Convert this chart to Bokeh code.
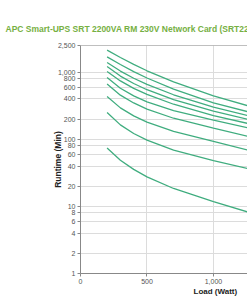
from bokeh.plotting import figure
from bokeh.models import FixedTicker, NumeralTickFormatter, Span, Title, Range1d
from bokeh.embed import file_html
from bokeh.resources import INLINE

title_text = "APC Smart-UPS SRT 2200VA RM 230V Network Card (SRT2200RMXLI-NC)"
x_label = "Load (Watt)"
y_label = "Runtime (Min)"

loads = [200, 300, 400, 500, 700, 1000, 1300]
runtime_9 = [2134, 1655, 1305, 1050, 716, 445, 299]
runtime_8 = [1695, 1301, 1021, 820, 561, 350, 245]
runtime_7 = [1395, 1040, 813, 658, 461, 302, 215]
runtime_6 = [1216, 876, 678, 548, 389, 263, 190]
runtime_5 = [1024, 741, 575, 467, 333, 226, 165]
runtime_4 = [834, 577, 444, 362, 267, 193, 142]
runtime_3 = [665, 455, 348, 282, 206, 147, 106]
runtime_2 = [434, 294, 223, 180, 131, 93, 66]
runtime_1 = [251, 164, 122, 97, 69, 48, 35]
runtime_0 = [74, 48.8, 35.6, 27.6, 18.5, 11.8, 7.8]
series = [runtime_9, runtime_8, runtime_7, runtime_6, runtime_5,
          runtime_4, runtime_3, runtime_2, runtime_1, runtime_0]

y_ticks = [1, 2, 4, 6, 8, 10, 20, 40, 60, 80, 100, 200, 400, 600, 800, 1000, 2500]
x_ticks = [0, 500, 1000, 1500]

FONT = "Liberation Sans"
LINE = "#40ad7f"

p = figure(width=247, height=296, output_backend="svg", toolbar_location=None,
           y_axis_type="log", x_range=Range1d(0, 1256), y_range=Range1d(1, 2500),
           min_border_left=80, min_border_right=0, min_border_top=45,
           min_border_bottom=23)
p.outline_line_color = None
p.background_fill_color = "white"
p.border_fill_color = "white"

p.title.text = title_text
p.title.text_font = FONT
p.title.text_font_size = "8.5px"
p.title.text_font_style = "bold"
p.title.text_color = "#76b043"
p.title.align = "left"
p.title.offset = -75
p.title.standoff = 24

for s in series:
    p.line(loads, s, line_color=LINE, line_width=1.3)

p.yaxis.ticker = FixedTicker(ticks=y_ticks)
p.xaxis.ticker = FixedTicker(ticks=x_ticks)
p.yaxis.formatter = NumeralTickFormatter(format="0,0")
p.xaxis.formatter = NumeralTickFormatter(format="0,0")

for ax in (p.xaxis, p.yaxis):
    ax.major_label_text_font = FONT
    ax.major_label_text_font_size = "7px"
    ax.major_label_text_color = "#555555"
    ax.major_tick_out = 3
    ax.major_tick_in = 0
    ax.minor_tick_out = 0
    ax.minor_tick_in = 0
    ax.major_tick_line_color = "#888888"
    ax.axis_line_color = "#888888"
    ax.major_label_standoff = 2

p.yaxis.axis_label = y_label
p.yaxis.axis_label_text_font = FONT
p.yaxis.axis_label_text_font_size = "8.5px"
p.yaxis.axis_label_text_font_style = "bold"
p.yaxis.axis_label_text_color = "#222222"
p.yaxis.axis_label_standoff = -8

p.xgrid.ticker = FixedTicker(ticks=x_ticks)
p.ygrid.ticker = FixedTicker(ticks=y_ticks)
p.xgrid.grid_line_color = "#dcdcdc"
p.ygrid.grid_line_color = "#dcdcdc"

p.add_layout(Span(location=2500, dimension="width", line_color="#808080", line_width=1))

p.add_layout(Title(text=x_label, text_font=FONT, text_font_size="8px",
                   text_font_style="bold", text_color="#222222", align="left",
                   offset=113, standoff=-3), "below")

open("out.html", "w").write(file_html(p, INLINE))
